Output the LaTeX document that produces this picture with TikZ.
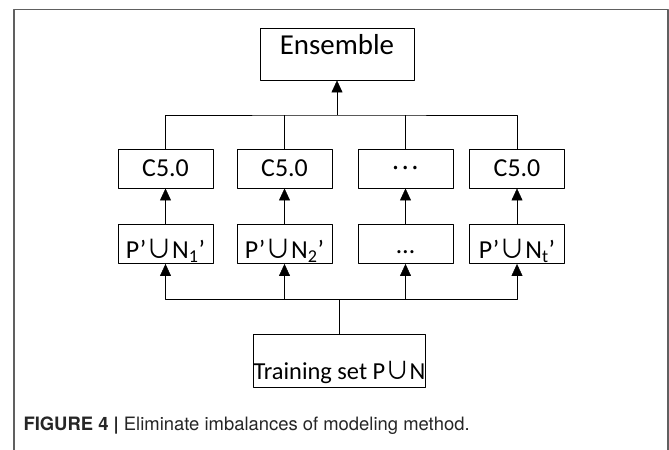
\documentclass[tikz,border=0pt]{standalone}
\usepackage{fontspec}
\setmainfont{Carlito}
\newfontfamily\capfont{TeX Gyre Heros}
\newfontfamily\cjk{Noto Sans CJK SC}
\usetikzlibrary{arrows.meta}

\begin{document}
\begin{tikzpicture}[x=1bp, y=-1bp, line join=round, >={Triangle[width=11bp,length=12bp]},
	box/.style={draw, line width=0.9bp, minimum width=95bp, minimum height=39bp, inner sep=1bp, font=\fontsize{26}{30}\selectfont},
	low/.style={text height=31bp, text depth=1bp},
	mid/.style={text height=21bp, text depth=1bp}]
	\useasboundingbox (0,0) rectangle (669,450);
	% outer frame, open at the bottom
	\draw[gray!75!black, line width=1.2bp] (14,452) -- (14,9.5) -- (668,9.5) -- (668,452);
	\node[box, minimum width=154bp, minimum height=52bp, text height=20bp, text depth=18bp, font=\fontsize{29}{34}\selectfont] (ens) at (337,54) {Ensemble};
	\foreach \i/\x/\c/\p/\s in {1/165.5/C5.0/{P’{\cjk ∪}N\textsubscript{1}’}/low,
		2/284.5/C5.0/{P’{\cjk ∪}N\textsubscript{2}’}/low,
		3/405.5/{\cjk …}/\ldots/mid,
		4/517/C5.0/{P’{\cjk ∪}N\textsubscript{t}’}/low}{
		\node[box] (c\i) at (\x,168.5) {\c};
		\node[box, \s] (p\i) at (\x,244) {\p};
		\draw[->] (p\i.north) -- (c\i.south);
	}
	\node[box, minimum width=165bp, minimum height=53bp, inner sep=0pt, text height=41bp, text depth=4bp, font=\fontsize{24.5}{28}\selectfont] (train) at (339.5,360.5) {Training set P{\cjk ∪}N};
	\coordinate (tbus) at (ens.south |- 0,115);
	\coordinate (bbus) at (train.north |- 0,299);
	% classifiers into the ensemble
	\draw (c1.north) |- (tbus) -| (c4.north);
	\foreach \i in {2,3} \draw (c\i.north) -- (c\i.north |- tbus);
	\draw[->] (tbus) -- (ens.south);
	% training set split into the subsets
	\draw (train.north) -- (bbus);
	\foreach \i in {1,...,4} \draw[->] (bbus) -| (p\i.south);
	\node[anchor=west, text=black!85, font=\capfont\fontsize{18.5}{21}\selectfont] (cap) at (20,426) {\textbf{FIGURE 4 |} Eliminate imbalances of modeling method.};
\end{tikzpicture}
\end{document}
